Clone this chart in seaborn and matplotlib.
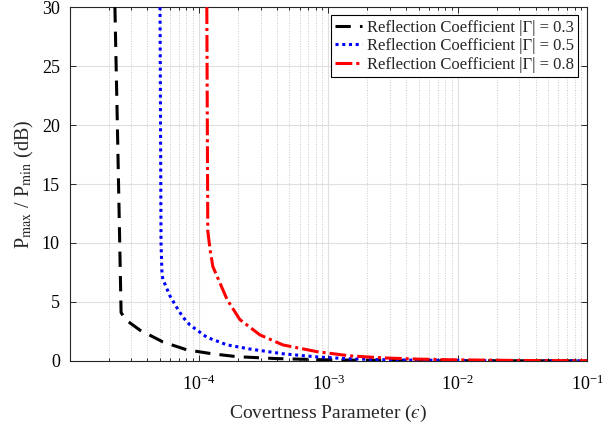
import numpy as np
import pandas as pd
import matplotlib
matplotlib.use('Agg')
import matplotlib.pyplot as plt
import seaborn as sns

# values
eps_03 = [2.24e-5, 2.34e-5, 2.44e-5, 2.50e-5, 2.7e-5, 3.5e-5, 5.27e-5, 8.07e-5, 1.26e-4,
          1.97e-4, 4.0e-4, 1.0e-3, 3.0e-3, 1.0e-2, 3.0e-2, 1.0e-1]
pr_03 = [30.0, 20.0, 10.0, 4.1, 3.5, 2.6, 1.6, 0.93, 0.6, 0.35, 0.19, 0.08, 0.03, 0.01, 0.004, 0.001]

eps_05 = [5.0e-5, 5.09e-5, 5.18e-5, 5.27e-5, 5.97e-5, 6.76e-5, 7.52e-5, 8.5e-5, 1.15e-4,
          1.65e-4, 2.48e-4, 4.45e-4, 8.15e-4, 1.47e-3, 3.0e-3, 1.0e-2, 3.0e-2, 1.0e-1]
pr_05 = [30.0, 10.0, 7.3, 6.9, 5.5, 4.5, 3.7, 3.05, 2.0, 1.35, 1.0, 0.6, 0.33, 0.17, 0.08, 0.03, 0.01, 0.003]

eps_08 = [1.15e-4, 1.17e-4, 1.22e-4, 1.28e-4, 1.65e-4, 2.07e-4, 2.96e-4, 4.45e-4, 8.15e-4,
          1.47e-3, 2.64e-3, 4.8e-3, 8.7e-3, 3.0e-2, 1.0e-1]
pr_08 = [30.0, 11.0, 9.4, 8.0, 5.2, 3.5, 2.2, 1.35, 0.78, 0.42, 0.25, 0.15, 0.09, 0.03, 0.01]

labels = ['Reflection Coefficient |\u0393| = 0.3',
          'Reflection Coefficient |\u0393| = 0.5',
          'Reflection Coefficient |\u0393| = 0.8']
xticks = [1e-4, 1e-3, 1e-2, 1e-1]
yticks = [0, 5, 10, 15, 20, 25, 30]

sns.set_style("ticks")
plt.rcParams['font.family'] = ['Liberation Serif', 'DejaVu Serif']
plt.rcParams['mathtext.fontset'] = 'stix'
plt.rcParams['xtick.direction'] = 'in'
plt.rcParams['ytick.direction'] = 'in'

fig = plt.figure(figsize=(6.16, 4.25), dpi=100)
ax = fig.add_axes([0.113, 0.151, 0.840, 0.832])

df03 = pd.DataFrame({'eps': eps_03, 'pr': pr_03})
df05 = pd.DataFrame({'eps': eps_05, 'pr': pr_05})
df08 = pd.DataFrame({'eps': eps_08, 'pr': pr_08})

sns.lineplot(data=df03, x='eps', y='pr', ax=ax, color='black', lw=2.2, sort=False,
             estimator=None, label=labels[0], zorder=5)
ax.lines[-1].set_dashes([5, 3])
sns.lineplot(data=df05, x='eps', y='pr', ax=ax, color='blue', lw=2.2, sort=False,
             estimator=None, label=labels[1], zorder=5)
ax.lines[-1].set_linestyle((0, (1, 1.2)))
sns.lineplot(data=df08, x='eps', y='pr', ax=ax, color='red', lw=2.2, sort=False,
             estimator=None, label=labels[2], zorder=5)
ax.lines[-1].set_linestyle((0, (5.5, 1.3, 1, 1.3)))

ax.set_xscale('log')
ax.set_xlim(1e-5, 1e-1)
ax.set_ylim(0, 30)
ax.set_xticks(xticks)
ax.set_yticks(yticks)
ax.set_yticklabels([str(v) for v in yticks])

ax.grid(which='major', axis='both', color='#e0e0e0', lw=0.8, ls='-')
ax.grid(which='minor', axis='x', color='#c8c8c8', lw=0.7, ls=':')
ax.set_axisbelow(True)

ax.tick_params(which='both', top=True, right=True, colors='#262626', labelcolor='black',
               labelsize=13, width=0.7)
ax.tick_params(which='major', length=4)
ax.tick_params(which='minor', length=2.5)
ax.tick_params(axis='x', which='major', pad=10)
ax.tick_params(axis='y', which='major', pad=7)
for s in ax.spines.values():
    s.set_color('#262626')
    s.set_linewidth(0.8)

ax.set_xlabel('Covertness Parameter ($\u03f5$)', fontsize=14, labelpad=6)
ax.set_ylabel(r'P$_{\mathrm{max}}$ / P$_{\mathrm{min}}$ (dB)', fontsize=14.5, labelpad=4)

leg = ax.legend(loc='upper right', bbox_to_anchor=(0.982, 0.977), fontsize=12,
                frameon=True, fancybox=False, edgecolor='black', framealpha=1,
                handlelength=1.6, handletextpad=0.3, borderpad=0.25, labelspacing=0.15,
                borderaxespad=0)
leg.get_frame().set_linewidth(0.8)

fig.savefig('out.png', dpi=100)
